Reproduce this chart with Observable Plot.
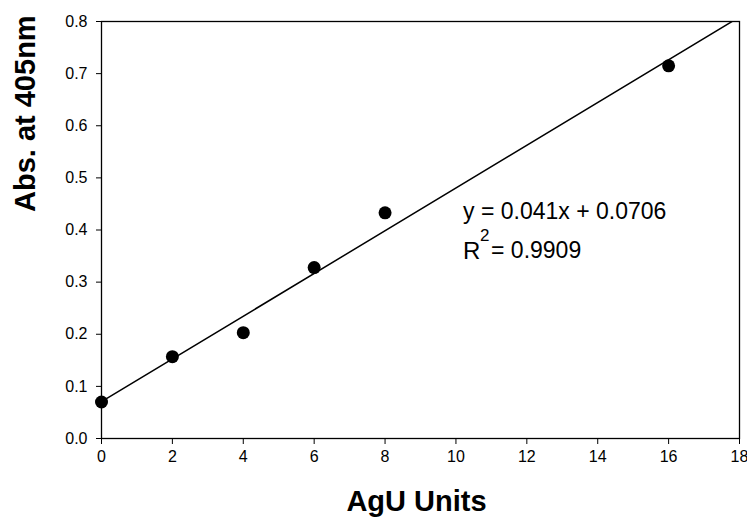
<!DOCTYPE html>
<html><head><meta charset="utf-8">
<script src="https://cdn.jsdelivr.net/npm/d3@7"></script>
<script src="https://cdn.jsdelivr.net/npm/@observablehq/plot@0.6"></script>
<style>
body{margin:0;background:#fff}
#chart svg g[aria-label="x-axis tick label"],
#chart svg g[aria-label="y-axis tick label"]{font-size:16px !important;}
#chart svg g[aria-label="x-axis tick label"] text,
#chart svg g[aria-label="y-axis tick label"] text{font-size:16px !important;}
</style>
</head><body><div id="chart"></div>
<script>
// Data
const units = [0, 2, 4, 6, 8, 16];
const absorbance = [0.07, 0.157, 0.203, 0.328, 0.433, 0.715];
const xTicks = [0, 2, 4, 6, 8, 10, 12, 14, 16, 18];
const yTicks = [0, 0.1, 0.2, 0.3, 0.4, 0.5, 0.6, 0.7, 0.8];
const slope = 0.041;
const intercept = 0.0706;
const fitRange = [0, 18];
const equationText = "y = 0.041x + 0.0706";
const r2Value = "= 0.9909";
const xTitle = "AgU Units";
const yTitle = "Abs. at 405nm";

const points = units.map((u, i) => ({x: u, y: absorbance[i]}));
const fit = fitRange.map(x => ({x, y: intercept + slope * x}));

const font = "'Liberation Sans', Arial, Helvetica, sans-serif";

const chart = Plot.plot({
  width: 747,
  height: 517,
  marginLeft: 101,
  marginRight: 8,
  marginTop: 21,
  marginBottom: 79,
  style: {fontFamily: font, fontSize: "16px", background: "#fff", color: "#000"},
  x: {domain: [0, 18]},
  y: {domain: [0, 0.8]},
  marks: [
    Plot.frame({stroke: "#000", strokeWidth: 1.3}),
    Plot.axisX({ticks: xTicks, tickSize: 6, tickPadding: 6, fontSize: 16, label: null, tickFormat: d => String(d)}),
    Plot.axisY({ticks: yTicks, tickSize: 5, tickPadding: 9, fontSize: 16, label: null, tickFormat: d3.format(".1f")}),
    Plot.line(fit, {x: "x", y: "y", stroke: "#000", strokeWidth: 1.5, clip: true}),
    Plot.dot(points, {x: "x", y: "y", r: 6.5, fill: "#000", stroke: "none"}),
    Plot.text([equationText], {x: () => 10.2, y: () => 0.436, text: d => d, textAnchor: "start", lineAnchor: "middle", fontSize: 23}),
    Plot.text(["R"], {x: () => 10.2, y: () => 0.36, text: d => d, textAnchor: "start", lineAnchor: "middle", fontSize: 24}),
    Plot.text(["2"], {x: () => 10.2, y: () => 0.36, text: d => d, textAnchor: "start", lineAnchor: "middle", fontSize: 17, dx: 17, dy: -15}),
    Plot.text([r2Value], {x: () => 10.2, y: () => 0.36, text: d => d, textAnchor: "start", lineAnchor: "middle", fontSize: 23, dx: 28}),
    Plot.text([xTitle], {frameAnchor: "bottom", text: d => d, dx: -4, dy: 63, lineAnchor: "middle", fontSize: 29, fontWeight: "bold"}),
    Plot.text([yTitle], {frameAnchor: "left", text: d => d, dx: -76, dy: -18, rotate: -90, lineAnchor: "middle", fontSize: 29, fontWeight: "bold"})
  ]
});
document.getElementById("chart").appendChild(chart);
</script>
</body></html>
